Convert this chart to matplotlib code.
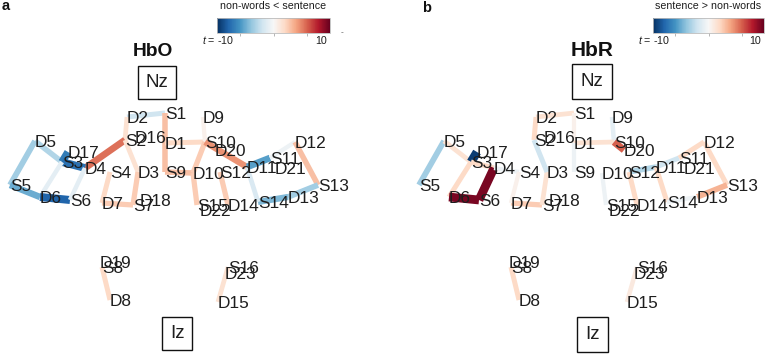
import matplotlib
matplotlib.use("Agg")
import matplotlib.pyplot as plt
from matplotlib.colors import Normalize
from matplotlib.cm import ScalarMappable
from matplotlib.patches import Rectangle

plt.rcParams['font.family'] = ['Liberation Sans', 'DejaVu Sans']
plt.rcParams['mathtext.fontset'] = 'custom'
plt.rcParams['mathtext.it'] = 'Liberation Sans:italic'
plt.rcParams['mathtext.rm'] = 'Liberation Sans'

# optode layout (montage, in panel units)
optode_names = ["S1", "D2", "D9", "D5", "S2", "D16", "D1", "S10", "D20", "D12",
                "D17", "S3", "D4", "S4", "D3", "S9", "D10", "S12", "D11", "S11",
                "D21", "S5", "S13", "D6", "S6", "D7", "S7", "D18", "S15", "D22",
                "D14", "S14", "D13", "D19", "S8", "D8", "S16", "D23", "D15"]
optode_x = [165, 127, 203, 35, 125, 135, 165, 205, 215, 295,
            68, 62, 85, 110, 138, 165, 193, 220, 247, 270,
            275, 10, 318, 40, 70, 102, 133, 140, 197, 200,
            228, 258, 288, 100, 102, 110, 228, 225, 218]
optode_y = [113, 117, 117, 141, 140, 137, 143, 142, 150, 142,
            152, 162, 168, 172, 172, 172, 173, 172, 167, 158,
            168, 185, 185, 197, 200, 203, 205, 200, 205, 210,
            205, 202, 197, 262, 267, 300, 267, 273, 302]

# channels and t values, HbO (non-words < sentence)
hbo_channels = [("S1", "D2"), ("S1", "D1"), ("S9", "D1"), ("S9", "D10"), ("S2", "D2"),
                ("S2", "D4"), ("S2", "D3"), ("S3", "D5"), ("S3", "D17"), ("S3", "D4"),
                ("S3", "D6"), ("S5", "D5"), ("S5", "D6"), ("S6", "D6"), ("S6", "D4"),
                ("S4", "D7"), ("S7", "D7"), ("S7", "D3"), ("S10", "D1"), ("S10", "D9"),
                ("S10", "D10"), ("S10", "D11"), ("S11", "D11"), ("S11", "D12"),
                ("S13", "D12"), ("S13", "D13"), ("S14", "D13"), ("S14", "D11"),
                ("S12", "D14"), ("S15", "D10"), ("S8", "D8"), ("S16", "D15")]
hbo_t = [-2, 3, 3, 3, 1.5,
         5.5, 1.5, -3, -7, -7.5,
         -1, -3.5, -5, -8, -1,
         2, 2.5, 2.5, 2, 0.5,
         2.5, 4.5, -5.5, -0.5,
         3, -3.5, -4.5, -1.5,
         2.5, 2.5, 2, 1.5]

# channels and t values, HbR (sentence > non-words)
hbr_channels = [("S5", "D5"), ("S3", "D5"), ("S3", "D17"), ("S3", "D6"), ("S3", "D4"),
                ("S6", "D4"), ("S6", "D6"), ("S4", "D4"), ("S7", "D7"), ("S7", "D3"),
                ("S4", "D7"), ("S2", "D2"), ("S2", "D3"), ("S1", "D2"), ("S1", "D1"),
                ("S10", "D9"), ("S10", "D1"), ("S10", "D20"), ("S9", "D1"), ("S12", "D11"),
                ("S11", "D11"), ("S11", "D12"), ("S13", "D12"), ("S13", "D13"),
                ("S14", "D11"), ("S14", "D13"), ("S12", "D14"), ("S15", "D10"),
                ("S8", "D8"), ("S16", "D15")]
hbr_t = [-3.5, 1.5, -9.5, 2, 2,
         9.5, 9.5, -0.5, 2.5, 1.5,
         0.5, 2, -2, 1.5, 0.5,
         -1, 1.5, 6, -0.5, -3,
         -2, 2, 2, 3.5,
         2, -0.5, 2, -0.5,
         2, 1]

panels = [
    dict(letter="a", title="HbO", channels=hbo_channels, t=hbo_t,
         cbar_label="non-words < sentence", dx=0,
         title_xy=(153, 52), title_size=13.8,
         nz=(138, 66, 38, 33), iz=(162, 317, 30, 33),
         cbar=(217, 18, 113, 14.5), letter_xy=(2, 6)),
    dict(letter="b", title="HbR", channels=hbr_channels, t=hbr_t,
         cbar_label="sentence > non-words", dx=409,
         title_xy=(592, 51), title_size=15,
         nz=(572, 64, 40, 35), iz=(577, 317, 31, 35),
         cbar=(653, 18, 111, 14.5), letter_xy=(422, 8)),
]

W, H = 767, 354
fig = plt.figure(figsize=(W / 100, H / 100), dpi=100)
ax = fig.add_axes([0, 0, 1, 1])
ax.set_xlim(0, W)
ax.set_ylim(H, 0)
ax.axis('off')

cmap = plt.get_cmap('RdBu_r')
norm = Normalize(-10, 10)
pos = {n: (x, y) for n, x, y in zip(optode_names, optode_x, optode_y)}
txt_color = '#1e1e1e'

for p in panels:
    dx = p["dx"]
    # channels
    for (s, d), t in zip(p["channels"], p["t"]):
        xs = [pos[s][0] + dx, pos[d][0] + dx]
        ys = [pos[s][1], pos[d][1]]
        lw = (4 + 0.5 * abs(t)) * 0.72
        ax.plot(xs, ys, color=cmap(norm(t)), lw=lw, solid_capstyle='butt', zorder=2)
    # optode labels
    for n in optode_names:
        x, y = pos[n]
        ax.text(x + dx, y + 6, n, ha='left', va='baseline', fontsize=12.4,
                color=txt_color, zorder=3)
    # Nz / Iz boxes
    for key, lab in (("nz", "Nz"), ("iz", "Iz")):
        bx, by, bw, bh = p[key]
        ax.add_patch(Rectangle((bx, by), bw, bh, fill=False, ec='#111111', lw=1.0, zorder=3))
        ax.text(bx + bw / 2, by + bh / 2, lab, ha='center', va='center', fontsize=13.5,
                color=txt_color, zorder=3)
    # title & panel letter
    ax.text(*p["title_xy"], p["title"], ha='center', va='center', fontsize=p["title_size"],
            fontweight='bold', color='#111111')
    ax.text(*p["letter_xy"], p["letter"], ha='left', va='center', fontsize=10.5,
            fontweight='bold', color='#111111')
    # colorbar
    cx, cy, cw, ch = p["cbar"]
    cax = fig.add_axes([cx / W, 1 - (cy + ch) / H, cw / W, ch / H])
    cb = fig.colorbar(ScalarMappable(norm=norm, cmap=cmap), cax=cax, orientation='horizontal')
    cb.outline.set_edgecolor('#bbbbbb')
    cb.outline.set_linewidth(0.6)
    cb.set_ticks([-6, 0, 6])
    cax.tick_params(length=2.5, width=0.6, color='#aaaaaa', labelbottom=False)
    ax.text(cx + cw / 2, cy - 12, p["cbar_label"], ha='center', va='center', fontsize=7.7,
            color=txt_color)
    ax.text(cx - 15, cy + ch + 8, r"$t$ = -10", ha='left', va='center', fontsize=7.7,
            color=txt_color)
    ax.text(cx + cw - 3, cy + ch + 8, "10", ha='right', va='center', fontsize=7.7,
            color=txt_color)

ax.text(342, 33, "-", ha='center', va='center', fontsize=6, color='#555555')

fig.savefig("out.png", dpi=100)
